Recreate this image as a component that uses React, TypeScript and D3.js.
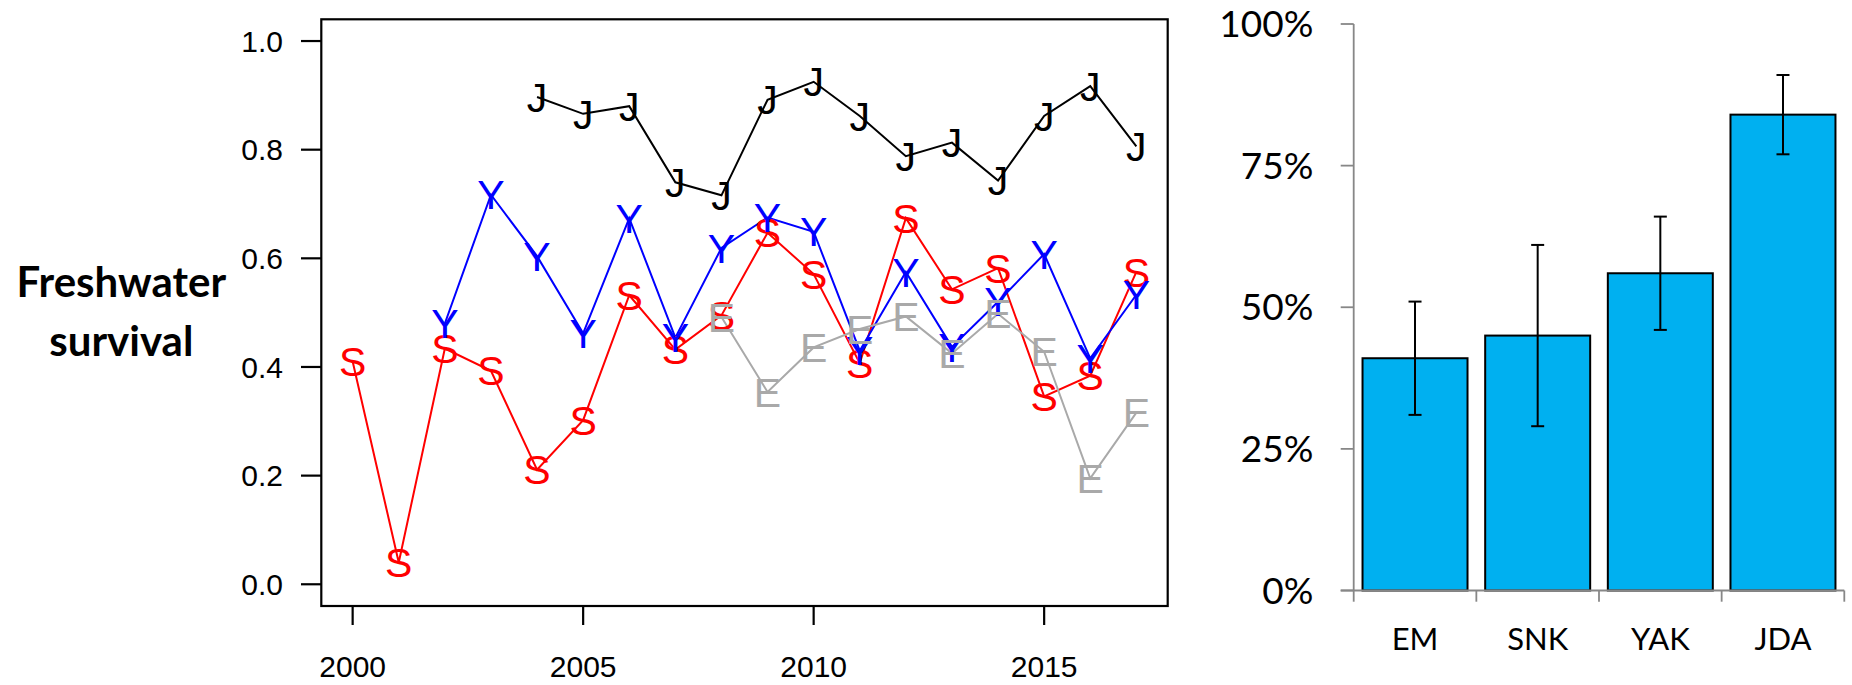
import React from "react";
import * as d3 from "d3";

// ---- Left panel data: freshwater survival by year ----
const yearsS = [2000, 2001, 2002, 2003, 2004, 2005, 2006, 2007, 2008, 2009, 2010, 2011, 2012, 2013, 2014, 2015, 2016, 2017];
const survS = [0.41, 0.04, 0.434, 0.393, 0.211, 0.302, 0.532, 0.432, 0.495, 0.647, 0.571, 0.407, 0.674, 0.543, 0.582, 0.346, 0.384, 0.575];

const yearsY = [2002, 2003, 2004, 2005, 2006, 2007, 2008, 2009, 2010, 2011, 2012, 2013, 2014, 2015, 2016, 2017];
const survY = [0.48, 0.717, 0.604, 0.462, 0.674, 0.454, 0.619, 0.675, 0.649, 0.43, 0.575, 0.437, 0.52, 0.608, 0.416, 0.533];

const yearsJ = [2004, 2005, 2006, 2007, 2008, 2009, 2010, 2011, 2012, 2013, 2014, 2015, 2016, 2017];
const survJ = [0.897, 0.866, 0.88, 0.74, 0.716, 0.892, 0.925, 0.862, 0.788, 0.813, 0.743, 0.862, 0.917, 0.806];

const yearsE = [2008, 2009, 2010, 2011, 2012, 2013, 2014, 2015, 2016, 2017];
const survE = [0.492, 0.354, 0.436, 0.47, 0.493, 0.425, 0.498, 0.428, 0.195, 0.316];

const yTicks = [0.0, 0.2, 0.4, 0.6, 0.8, 1.0];
const xTicks = [2000, 2005, 2010, 2015];

// ---- Right panel data ----
const groups = ["EM", "SNK", "YAK", "JDA"];
const groupMean = [0.41, 0.45, 0.56, 0.84];
const groupLow = [0.31, 0.29, 0.46, 0.77];
const groupHigh = [0.51, 0.61, 0.66, 0.91];
const pctTicks = [0, 0.25, 0.5, 0.75, 1.0];

const seriesList = [
  { letter: "S", years: yearsS, vals: survS, color: "#FF0000" },
  { letter: "Y", years: yearsY, vals: survY, color: "#0000FF" },
  { letter: "J", years: yearsJ, vals: survJ, color: "#000000" },
  { letter: "E", years: yearsE, vals: survE, color: "#A9A9A9" },
];

export default function App() {
  // left panel scales
  const x = d3.scaleLinear().domain([1999.32, 2017.68]).range([321.3, 1167.7]);
  const y = d3.scaleLinear().domain([-0.04, 1.04]).range([606, 19.3]);
  const line = d3
    .line<[number, number]>()
    .x((d) => x(d[0]))
    .y((d) => y(d[1]));

  // right panel scales
  const bx = d3
    .scaleBand<string>()
    .domain(groups)
    .range([1353.7, 1844.3])
    .paddingInner(0.144)
    .paddingOuter(0.072);
  const by = d3.scaleLinear().domain([0, 1]).range([590.5, 24]);
  const step = bx.step();
  const boundaries = [0, 1, 2, 3, 4].map((i) => 1353.7 + i * step);

  const rFont = "'Liberation Sans', Arial, Helvetica, sans-serif";
  const cFont = "Lato, 'Open Sans', sans-serif";
  const pchSize = 41;
  const axisGray = "#878787";

  return (
    <svg
      width={1852}
      height={685}
      style={{ position: "absolute", left: 0, top: 0, background: "#fff" }}
    >
      <rect x={0} y={0} width={1852} height={685} fill="#ffffff" />
      {/* Y axis title */}
      <g fontFamily={cFont} fontWeight={700} fontSize={42} fill="#000" textAnchor="middle">
        <text x={121.3} y={297}>Freshwater</text>
        <text x={121.3} y={355.5}>survival</text>
      </g>

      {/* Left panel: lines */}
      {seriesList.map((s) => (
        <path
          key={"l" + s.letter}
          d={line(s.years.map((yr, i) => [yr, s.vals[i]] as [number, number])) || ""}
          fill="none"
          stroke={s.color}
          strokeWidth={2}
        />
      ))}
      {/* Left panel: letter markers */}
      {seriesList.map((s) => (
        <g key={"p" + s.letter} fill={s.color} fontFamily={rFont} fontSize={pchSize} textAnchor="middle">
          {s.years.map((yr, i) => (
            <text key={yr} x={x(yr)} y={y(s.vals[i]) + pchSize * 0.358}>
              {s.letter}
            </text>
          ))}
        </g>
      ))}

      {/* Left panel box */}
      <rect x={321.3} y={19.3} width={1167.7 - 321.3} height={606 - 19.3} fill="none" stroke="#000" strokeWidth={2.2} />

      {/* Y axis ticks and labels */}
      <g fontFamily={rFont} fontSize={30} fill="#000">
        {yTicks.map((t) => (
          <g key={t}>
            <line x1={301} x2={321.3} y1={y(t)} y2={y(t)} stroke="#000" strokeWidth={2.2} />
            <text x={283} y={y(t) + 10.7} textAnchor="end">
              {t.toFixed(1)}
            </text>
          </g>
        ))}
        {xTicks.map((t) => (
          <g key={t}>
            <line x1={x(t)} x2={x(t)} y1={606} y2={625} stroke="#000" strokeWidth={2.2} />
            <text x={x(t)} y={676.7} textAnchor="middle">
              {t}
            </text>
          </g>
        ))}
      </g>

      {/* Right panel: bars */}
      {groups.map((g, i) => (
        <rect
          key={g}
          x={bx(g)}
          y={by(groupMean[i])}
          width={bx.bandwidth()}
          height={by(0) - by(groupMean[i])}
          fill="#00B0F0"
          stroke="#000"
          strokeWidth={2}
        />
      ))}
      {/* Error bars */}
      {groups.map((g, i) => {
        const cx = (bx(g) || 0) + bx.bandwidth() / 2;
        return (
          <g key={"e" + g} stroke="#000" strokeWidth={2}>
            <line x1={cx} x2={cx} y1={by(groupHigh[i])} y2={by(groupLow[i])} />
            <line x1={cx - 6.5} x2={cx + 6.5} y1={by(groupHigh[i])} y2={by(groupHigh[i])} />
            <line x1={cx - 6.5} x2={cx + 6.5} y1={by(groupLow[i])} y2={by(groupLow[i])} />
          </g>
        );
      })}

      {/* Right panel axes */}
      <g stroke={axisGray} strokeWidth={1.8}>
        <line x1={1353.7} x2={1353.7} y1={by(1)} y2={by(0)} />
        <line x1={1340.7} x2={1844.3} y1={by(0)} y2={by(0)} />
        {pctTicks.map((t) => (
          <line key={t} x1={1340.7} x2={1353.7} y1={by(t)} y2={by(t)} />
        ))}
        {boundaries.map((b, i) => (
          <line key={i} x1={b} x2={b} y1={by(0)} y2={601.7} />
        ))}
      </g>
      <g fontFamily={cFont} fill="#000">
        {pctTicks.map((t) => (
          <text key={t} x={1313.3} y={by(t) + 13} textAnchor="end" fontSize={37}>
            {Math.round(t * 100) + "%"}
          </text>
        ))}
        {groups.map((g) => (
          <text key={g} x={(bx(g) || 0) + bx.bandwidth() / 2} y={650} textAnchor="middle" fontSize={31}>
            {g}
          </text>
        ))}
      </g>
    </svg>
  );
}
